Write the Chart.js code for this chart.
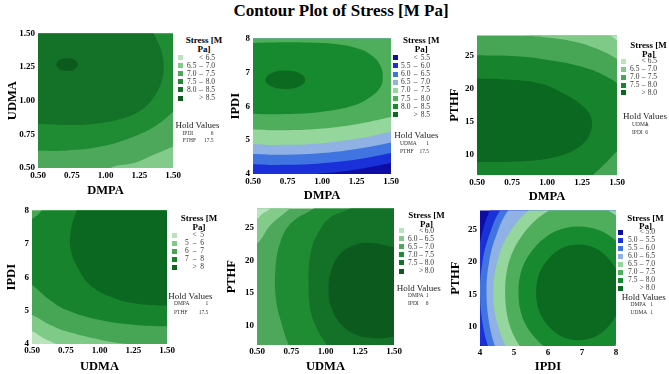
<!DOCTYPE html>
<html>
<head>
<meta charset="utf-8">
<script src="https://cdn.jsdelivr.net/npm/chart.js@4.4.1/dist/chart.umd.min.js"></script>
<style>
  body { margin: 0; background: #fff; }
  #page { position: relative; width: 669px; height: 374px; overflow: hidden; font-family: "Liberation Serif", "Times New Roman", serif; }
  #page canvas { position: absolute; }
  .t { position: absolute; white-space: nowrap; }
  .sw { position: absolute; width: 5px; height: 5px; }
</style>
</head>
<body>
<div id="page"></div>
<script>
// colour scales (low -> high), as in the legends
var green6 = ['#b9e4be', '#83cb8b', '#4ea85b', '#1f8c34', '#147128', '#0c5a1e'];
var green5 = ['#b9e4be', '#80ca88', '#47a655', '#17842d', '#0b6820'];
var blueGreen8 = ['#0d0da6', '#1a30d8', '#4074e0', '#90b1e4', '#95d69c', '#4fae5b', '#178a30', '#0c6a20'];

// ---- panel 1: UDMA vs DMPA
var p1XRange = [0.5, 1.5], p1YRange = [0.5, 1.5];
var p1XTicks = [0.5, 0.75, 1.0, 1.25, 1.5];
var p1YTicks = [0.5, 0.75, 1.0, 1.25, 1.5];
var p1Breaks = ['6.5', '7.0', '7.5', '8.0', '8.5'];
var p1Hold = [['IPDI', '6'], ['PTHF', '17.5']];
var p1Base = 1;
// [band, outline of the area at or above that band] in axis units
var p1Shapes = [
  [2, [[0.95,0.4],[1.036,0.5],[1.209,0.537],[1.357,0.599],[1.5,0.66],[1.65,0.74],[1.75,0.8],[1.75,1.75],[0.3,1.75],[0.3,0.4]]],
  [3, [[0.3,0.63],[0.5,0.628],[0.715,0.63],[0.962,0.659],[1.209,0.733],[1.381,0.82],[1.5,0.917],[1.6,1.02],[1.75,1.2],[1.75,1.75],[0.3,1.75]]],
  [4, [[0.3,0.84],[0.5,0.828],[0.715,0.819],[0.962,0.833],[1.159,0.878],[1.283,0.944],[1.369,1.043],[1.419,1.154],[1.431,1.265],[1.411,1.377],[1.357,1.5],[1.3,1.6],[1.0,1.75],[0.3,1.75]]],
  [5, [[0.796,1.269],[0.773,1.302],[0.716,1.315],[0.659,1.302],[0.636,1.269],[0.659,1.236],[0.716,1.223],[0.773,1.236],[0.796,1.269],[0.773,1.302],[0.716,1.315]]]
];

// ---- panel 2: IPDI vs DMPA
var p2XRange = [0.5, 1.5], p2YRange = [4, 8];
var p2XTicks = [0.5, 0.75, 1.0, 1.25, 1.5];
var p2YTicks = [4, 5, 6, 7, 8];
var p2Breaks = ['5.5', '6.0', '6.5', '7.0', '7.5', '8.0', '8.5'];
var p2Hold = [['UDMA', '1'], ['PTHF', '17.5']];
var p2Base = 0;
var p2Shapes = [
  [1, [[0.85,3.9],[0.96,4.0],[1.1,4.05],[1.25,4.13],[1.4,4.24],[1.5,4.33],[1.6,4.44],[1.75,4.6],[1.75,8.5],[0.3,8.5],[0.3,3.9]]],
  [2, [[0.3,4.36],[0.5,4.29],[0.75,4.27],[1.0,4.32],[1.25,4.43],[1.5,4.62],[1.65,4.76],[1.75,4.9],[1.75,8.5],[0.3,8.5]]],
  [3, [[0.3,4.66],[0.5,4.59],[0.75,4.57],[1.0,4.62],[1.25,4.74],[1.5,4.93],[1.65,5.07],[1.75,5.2],[1.75,8.5],[0.3,8.5]]],
  [4, [[0.3,4.96],[0.5,4.88],[0.75,4.86],[1.0,4.91],[1.25,5.04],[1.5,5.25],[1.65,5.4],[1.75,5.52],[1.75,8.5],[0.3,8.5]]],
  [5, [[0.3,5.39],[0.5,5.31],[0.75,5.29],[1.0,5.34],[1.25,5.47],[1.5,5.68],[1.65,5.83],[1.75,5.95],[1.75,8.5],[0.3,8.5]]],
  [6, [[0.3,5.85],[0.5,5.78],[0.75,5.77],[0.988,5.83],[1.229,6.02],[1.35,6.27],[1.423,6.56],[1.44,6.81],[1.428,7.15],[1.374,7.45],[1.278,7.68],[1.109,7.83],[0.867,7.88],[0.626,7.88],[0.3,7.84]]],
  [7, [[0.879,6.78],[0.837,6.971],[0.734,7.05],[0.632,6.971],[0.589,6.78],[0.632,6.589],[0.734,6.51],[0.837,6.589],[0.879,6.78],[0.837,6.971],[0.734,7.05]]]
];

// ---- panel 3: PTHF vs DMPA
var p3XRange = [0.5, 1.5], p3YRange = [7, 28];
var p3XTicks = [0.5, 0.75, 1.0, 1.25, 1.5];
var p3YTicks = [10, 15, 20, 25];
var p3Breaks = ['6.5', '7.0', '7.5', '8.0'];
var p3Hold = [['UDMA', '1'], ['IPDI', '6']];
var p3Base = 2;
var p3Shapes = [
  [3, [[0.3,25.1],[0.5,25.0],[0.75,24.9],[0.95,24.5],[1.25,23.3],[1.45,21.5],[1.55,19.5],[1.6,15.5],[1.55,12.0],[1.45,9.5],[1.38,8.0],[1.33,7.0],[1.28,6.0],[0.3,6.0]]],
  [4, [[0.3,21.6],[0.5,21.5],[0.71,21.35],[0.95,20.75],[1.141,19.0],[1.261,17.25],[1.32,15.25],[1.297,12.75],[1.213,11.0],[1.069,9.75],[0.83,9.05],[0.5,8.95],[0.3,8.95]]],
  [1, [[0.75,28.3],[0.85,28.0],[1.0,27.7],[1.19,27.1],[1.356,26.0],[1.5,24.5],[1.6,23.2],[1.7,22.0],[1.7,29.0],[0.75,29.0]]],
  [0, [[1.4,28.3],[1.452,28.0],[1.5,27.25],[1.55,26.5],[1.7,26.0],[1.7,29.0],[1.4,29.0]]]
];

// ---- panel 4: IPDI vs UDMA
var p4XRange = [0.5, 1.5], p4YRange = [4, 8];
var p4XTicks = [0.5, 0.75, 1.0, 1.25, 1.5];
var p4YTicks = [4, 5, 6, 7, 8];
var p4Breaks = ['5', '6', '7', '8'];
var p4Hold = [['DMPA', '1'], ['PTHF', '17.5']];
var p4Base = 0;
var p4Shapes = [
  [1, [[0.3,4.55],[0.5,4.38],[0.582,4.18],[0.68,4.0],[0.75,3.85],[0.8,3.7],[1.8,3.7],[1.8,8.5],[0.3,8.5]]],
  [2, [[0.3,5.15],[0.5,4.87],[0.632,4.58],[0.756,4.38],[1.004,4.13],[1.2,4.0],[1.4,3.93],[1.6,3.93],[1.8,3.95],[1.8,8.5],[0.3,8.5]]],
  [3, [[0.3,6.3],[0.5,5.77],[0.632,5.32],[0.756,5.02],[1.004,4.72],[1.252,4.58],[1.5,4.53],[1.65,4.55],[1.8,4.6],[1.8,8.5],[0.62,8.5],[0.57,8.0],[0.5,7.75],[0.3,7.3]]],
  [4, [[0.87,8.5],[0.83,8.0],[0.79,7.45],[0.785,6.86],[0.842,6.26],[0.929,5.77],[1.078,5.42],[1.252,5.22],[1.5,5.15],[1.65,5.2],[1.8,5.3],[1.8,8.5]]]
];

// ---- panel 5: PTHF vs UDMA
var p5XRange = [0.5, 1.5], p5YRange = [7, 28];
var p5XTicks = [0.5, 0.75, 1.0, 1.25, 1.5];
var p5YTicks = [10, 15, 20, 25];
var p5Breaks = ['6.0', '6.5', '7.0', '7.5', '8.0'];
var p5Hold = [['DMPA', '1'], ['IPDI', '6']];
var p5Base = 2;
var p5Shapes = [
  [3, [[0.96,29.0],[0.913,28.0],[0.755,25.86],[0.67,22.8],[0.633,18.21],[0.641,13.63],[0.682,10.06],[0.731,7.0],[0.76,6.0],[1.8,6.0],[1.8,29.0]]],
  [4, [[1.23,29.0],[1.18,28.0],[1.034,26.62],[0.949,24.33],[0.893,21.27],[0.876,16.68],[0.893,12.1],[0.949,9.04],[1.01,7.0],[1.04,6.0],[1.8,6.0],[1.8,29.0]]],
  [5, [[1.8,21.0],[1.6,21.7],[1.5,22.04],[1.325,22.7],[1.204,22.3],[1.107,21.0],[1.046,18.72],[1.022,15.66],[1.046,12.6],[1.119,10.06],[1.228,8.53],[1.374,8.02],[1.5,8.28],[1.6,8.6],[1.8,9.0]]],
  [1, [[0.3,20.5],[0.5,22.6],[0.597,25.4],[0.743,28.0],[0.8,29.0],[0.3,29.0]]],
  [0, [[0.3,25.5],[0.5,26.37],[0.536,27.13],[0.597,28.0],[0.63,29.0],[0.3,29.0]]]
];

// ---- panel 6: PTHF vs IPDI
var p6XRange = [4, 8], p6YRange = [7, 28];
var p6XTicks = [4, 5, 6, 7, 8];
var p6YTicks = [10, 15, 20, 25];
var p6Breaks = ['5.0', '5.5', '6.0', '6.5', '7.0', '7.5', '8.0'];
var p6Hold = [['DMPA', '1'], ['UDMA', '1']];
var p6Base = 0;
var p6Shapes = [
  [1, [[4.794,33],[4.287,28],[4.041,24],[3.897,20],[3.84,15.3],[3.913,10],[4.071,6],[4.257,3],[9,3],[9,33]]],
  [2, [[5.339,33],[4.591,28],[4.261,24],[4.073,20],[4.0,15.3],[4.094,10],[4.3,6],[4.549,3],[9,3],[9,33]]],
  [3, [[5.71,33],[4.829,28],[4.469,24],[4.268,20],[4.19,15.3],[4.29,10],[4.51,6],[4.783,3],[9,3],[9,33]]],
  [4, [[9,31],[6.9,31],[6.019,30],[5.424,28],[4.927,25],[4.561,21],[4.39,15.3],[4.538,10],[4.878,6],[5.341,3],[6.338,0],[9,0]]],
  [5, [[9.06,15.3],[8.427,25.06],[6.9,29.1],[5.373,25.06],[4.74,15.3],[5.373,5.54],[6.9,1.5],[8.427,5.54],[9.06,15.3],[8.427,25.06],[6.9,29.1]]],
  [6, [[8.67,15.3],[8.151,22.51],[6.9,25.5],[5.649,22.51],[5.13,15.3],[5.649,8.09],[6.9,5.1],[8.151,8.09],[8.67,15.3],[8.151,22.51],[6.9,25.5]]],
  [7, [[8.15,15.3],[7.784,20.53],[6.9,22.7],[6.016,20.53],[5.65,15.3],[6.016,10.07],[6.9,7.9],[7.784,10.07],[8.15,15.3],[7.784,20.53],[6.9,22.7]]]
];

var page = document.getElementById('page');
var SERIF = '"Liberation Serif", "Times New Roman", serif';

function txt(s, x, y, align, font, color) {
  var d = document.createElement('div');
  d.className = 't';
  d.textContent = s;
  d.style.left = x + 'px';
  d.style.top = y + 'px';
  d.style.font = font;
  d.style.color = color || '#000';
  var tx = align === 'center' ? '-50%' : (align === 'right' ? '-100%' : '0');
  d.style.transform = 'translate(' + tx + ',-50%)';
  page.appendChild(d);
}

txt('Contour Plot of Stress [M Pa]', 341, 10, 'center', 'bold 17px/1 ' + SERIF);

function contourChart(p) {
  var padTop = 8, padRight = 12;
  var cv = document.createElement('canvas');
  cv.width = p.axisW + p.plotW + padRight;
  cv.height = padTop + p.plotH + p.axisH;
  cv.style.left = (p.plotLeft - p.axisW) + 'px';
  cv.style.top = (p.plotTop - padTop) + 'px';
  page.appendChild(cv);

  var xr = p.xRange, yr = p.yRange;
  var dx = xr[1] - xr[0], dy = yr[1] - yr[0];
  var layers = [[p.base, [[xr[0] - dx, yr[0] - dy], [xr[1] + dx, yr[0] - dy], [xr[1] + dx, yr[1] + dy], [xr[0] - dx, yr[1] + dy]]]].concat(p.shapes);

  var datasets = layers.map(function (l, i) {
    return {
      data: l[1].map(function (pt) { return { x: pt[0], y: pt[1] }; }),
      showLine: true,
      fill: 'shape',
      backgroundColor: p.colors[l[0]],
      borderColor: 'rgba(0,0,0,0)',
      borderWidth: 0,
      pointRadius: 0,
      tension: i === 0 ? 0 : 0.4,
      indexAxis: 'y'
    };
  }).reverse(); // first dataset is drawn on top

  var tickFont = { family: SERIF, size: 9, weight: 'bold' };
  var titleFont = { family: SERIF, size: 12.5, weight: 'bold' };

  new Chart(cv, {
    type: 'scatter',
    data: { datasets: datasets },
    options: {
      responsive: false,
      animation: false,
      events: [],
      indexAxis: 'y',
      layout: { padding: { top: padTop, right: padRight, left: 0, bottom: 0 } },
      elements: { line: { capBezierPoints: false } },
      plugins: { legend: { display: false }, tooltip: { enabled: false } },
      scales: {
        x: {
          type: 'linear', min: xr[0], max: xr[1],
          grid: { display: false, drawTicks: false },
          border: { display: false },
          ticks: {
            font: tickFont, color: '#000', padding: p.xPad, autoSkip: false, maxRotation: 0,
            callback: function (v) { return v.toFixed(p.xDec); }
          },
          afterBuildTicks: function (s) { s.ticks = p.xTicks.map(function (v) { return { value: v }; }); },
          afterFit: function (s) { s.height = p.axisH; },
          title: { display: true, text: p.xName, font: titleFont, color: '#000', padding: 0 }
        },
        y: {
          type: 'linear', min: yr[0], max: yr[1],
          grid: { display: false, drawTicks: false },
          border: { display: false },
          ticks: {
            font: tickFont, color: '#000', padding: 3, autoSkip: false,
            callback: function (v) { return v.toFixed(p.yDec); }
          },
          afterBuildTicks: function (s) { s.ticks = p.yTicks.map(function (v) { return { value: v }; }); },
          afterFit: function (s) { s.width = p.axisW; },
          title: { display: true, text: p.yName, font: titleFont, color: '#000', padding: 0 }
        }
      }
    }
  });
}

function legend(L, breaks, colors, hold) {
  var lab = '7.5px/1 ' + SERIF;
  var head = 'bold 9px/1 ' + SERIF;
  var small = '5.5px/1 ' + SERIF;
  txt('Stress [M', L.tx, L.ty, 'center', head);
  txt('Pa]', L.tx, L.ty + 8.5, 'center', head);
  var n = breaks.length + 1;
  for (var i = 0; i < n; i++) {
    var y = L.ry + i * L.rs;
    var sw = document.createElement('div');
    sw.className = 'sw';
    sw.style.left = L.sx + 'px';
    sw.style.top = (y - 2.5) + 'px';
    sw.style.background = colors[i];
    page.appendChild(sw);
    if (i === 0) {
      txt('<', L.dx, y, 'center', lab, '#333');
      txt(breaks[0], L.ex, y, 'right', lab, '#333');
    } else if (i === n - 1) {
      txt('>', L.dx, y, 'center', lab, '#333');
      txt(breaks[n - 2], L.ex, y, 'right', lab, '#333');
    } else {
      txt(breaks[i - 1], L.lx, y, 'left', lab, '#333');
      txt('\u2013', L.dx, y, 'center', lab, '#333');
      txt(breaks[i], L.ex, y, 'right', lab, '#333');
    }
  }
  txt('Hold Values', L.hx, L.hy, 'left', '9px/1 ' + SERIF, '#222');
  hold.forEach(function (h, j) {
    var yy = L.hry + j * L.hrs;
    txt(h[0], L.nx, yy, 'left', small, '#333');
    txt(h[1], L.vx, yy, 'right', small, '#333');
  });
}

var panels = [
  { xRange: p1XRange, yRange: p1YRange, xTicks: p1XTicks, yTicks: p1YTicks, xDec: 2, yDec: 2, xName: 'DMPA', yName: 'UDMA',
    base: p1Base, shapes: p1Shapes, colors: green6, breaks: p1Breaks, hold: p1Hold,
    plotLeft: 38, plotTop: 33, plotW: 135, plotH: 135, axisW: 33, axisH: 30, xPad: 2,
    leg: { tx: 204, ty: 40, sx: 178, ry: 57.5, rs: 8.1, lx: 187, dx: 201, ex: 215, hx: 175.5, hy: 125, nx: 182.5, hry: 133.7, hrs: 7.7, vx: 213.5 } },
  { xRange: p2XRange, yRange: p2YRange, xTicks: p2XTicks, yTicks: p2YTicks, xDec: 2, yDec: 0, xName: 'DMPA', yName: 'IPDI',
    base: p2Base, shapes: p2Shapes, colors: blueGreen8, breaks: p2Breaks, hold: p2Hold,
    plotLeft: 253, plotTop: 38, plotW: 138, plotH: 136, axisW: 25, axisH: 29, xPad: 2.6,
    leg: { tx: 421.3, ty: 40.3, sx: 392.8, ry: 57.7, rs: 8.17, lx: 401, dx: 415.5, ex: 430, hx: 394.3, hy: 134.7, nx: 400, hry: 143.5, hrs: 8.3, vx: 429 } },
  { xRange: p3XRange, yRange: p3YRange, xTicks: p3XTicks, yTicks: p3YTicks, xDec: 2, yDec: 0, xName: 'DMPA', yName: 'PTHF',
    base: p3Base, shapes: p3Shapes, colors: green5, breaks: p3Breaks, hold: p3Hold,
    plotLeft: 477, plotTop: 35, plotW: 140, plotH: 140, axisW: 30, axisH: 29, xPad: 2.3,
    leg: { tx: 648.5, ty: 45, sx: 620.7, ry: 61.3, rs: 7.9, lx: 630, dx: 643.5, ex: 657, hx: 623, hy: 116, nx: 632, hry: 124.5, hrs: 8, vx: 648 } },
  { xRange: p4XRange, yRange: p4YRange, xTicks: p4XTicks, yTicks: p4YTicks, xDec: 2, yDec: 0, xName: 'UDMA', yName: 'IPDI',
    base: p4Base, shapes: p4Shapes, colors: green5, breaks: p4Breaks, hold: p4Hold,
    plotLeft: 32, plotTop: 210, plotW: 135, plotH: 134, axisW: 28, axisH: 30, xPad: 1.3,
    leg: { tx: 199, ty: 218.3, sx: 171.7, ry: 235, rs: 8.1, lx: 185, dx: 194.5, ex: 204, hx: 168.3, hy: 296, nx: 174, hry: 304, hrs: 8.5, vx: 208.3 } },
  { xRange: p5XRange, yRange: p5YRange, xTicks: p5XTicks, yTicks: p5YTicks, xDec: 2, yDec: 0, xName: 'UDMA', yName: 'PTHF',
    base: p5Base, shapes: p5Shapes, colors: green6, breaks: p5Breaks, hold: p5Hold,
    plotLeft: 257, plotTop: 208, plotW: 137, plotH: 137, axisW: 33, axisH: 29, xPad: 1.3,
    leg: { tx: 426.5, ty: 215.3, sx: 398.8, ry: 230.5, rs: 8.1, lx: 408, dx: 421, ex: 434, hx: 396.7, hy: 288, nx: 408, hry: 295.7, hrs: 7.8, vx: 428.5 } },
  { xRange: p6XRange, yRange: p6YRange, xTicks: p6XTicks, yTicks: p6YTicks, xDec: 0, yDec: 0, xName: 'IPDI', yName: 'PTHF',
    base: p6Base, shapes: p6Shapes, colors: blueGreen8, breaks: p6Breaks, hold: p6Hold,
    plotLeft: 480, plotTop: 210, plotW: 136, plotH: 136, axisW: 32, axisH: 28, xPad: 1.6,
    leg: { tx: 645.5, ty: 217.5, sx: 618.3, ry: 232, rs: 8.0, lx: 628, dx: 641.5, ex: 655, hx: 621.7, hy: 297, nx: 630.5, hry: 305.3, hrs: 7.5, vx: 653 } }
];

panels.forEach(function (p) {
  contourChart(p);
  legend(p.leg, p.breaks, p.colors, p.hold);
});
</script>
</body>
</html>
